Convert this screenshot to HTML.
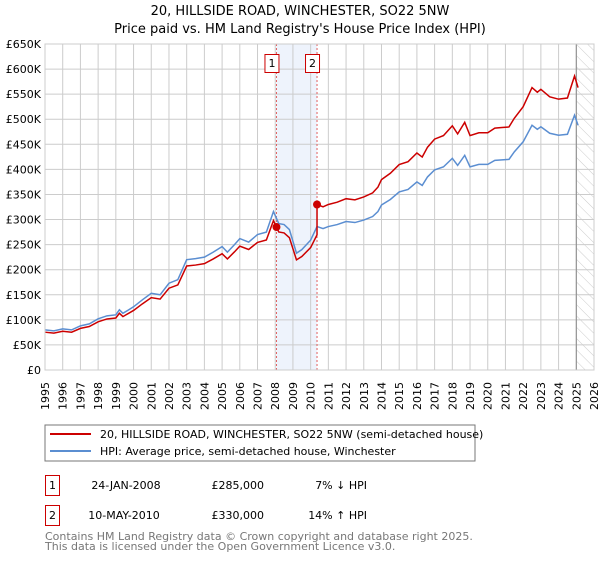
<!DOCTYPE html>
<html><head><meta charset="utf-8"><style>
body{margin:0;background:#fff;font-family:"DejaVu Sans","Liberation Sans",sans-serif;}
svg text{font-family:"DejaVu Sans","Liberation Sans",sans-serif;}
</style></head><body>
<svg id="chart" width="600" height="560" viewBox="0 0 600 560" xmlns="http://www.w3.org/2000/svg">
<defs><pattern id="hatch" width="8" height="8" patternUnits="userSpaceOnUse" patternTransform="rotate(-45)"><line x1="0" y1="0" x2="0" y2="8" stroke="#ccc" stroke-width="1"/></pattern></defs>
<text x="300" y="15" text-anchor="middle" font-size="13" fill="#000">20, HILLSIDE ROAD, WINCHESTER, SO22 5NW</text>
<text x="300" y="33" text-anchor="middle" font-size="13" fill="#000">Price paid vs. HM Land Registry's House Price Index (HPI)</text>
<g id="grid"></g><g id="marks"></g><g id="axes"></g>
<rect x="45" y="425" width="430" height="36" fill="#fff" stroke="#777"/>
<line x1="50" y1="434" x2="91" y2="434" stroke="#cc0000" stroke-width="2"/>
<text x="100" y="438" font-size="11">20, HILLSIDE ROAD, WINCHESTER, SO22 5NW (semi-detached house)</text>
<line x1="50" y1="451" x2="91" y2="451" stroke="#5b8ed1" stroke-width="2"/>
<text x="100" y="455" font-size="11">HPI: Average price, semi-detached house, Winchester</text>
<g>
<rect x="45.5" y="475.5" width="14" height="20" fill="#fff" stroke="#cc0000"/>
<text x="52.5" y="489" font-size="11" text-anchor="middle">1</text>
<text x="126" y="489" font-size="11" text-anchor="middle">24-JAN-2008</text>
<text x="264" y="489" font-size="11" text-anchor="end">£285,000</text>
<text x="367" y="489" font-size="11" text-anchor="end">7% ↓ HPI</text></g>
<g>
<rect x="45.5" y="505.5" width="14" height="20" fill="#fff" stroke="#cc0000"/>
<text x="52.5" y="519" font-size="11" text-anchor="middle">2</text>
<text x="124" y="519" font-size="11" text-anchor="middle">10-MAY-2010</text>
<text x="264" y="519" font-size="11" text-anchor="end">£330,000</text>
<text x="367" y="519" font-size="11" text-anchor="end">14% ↑ HPI</text></g>
<text x="45" y="540" font-size="11" fill="#777">Contains HM Land Registry data © Crown copyright and database right 2025.</text>
<text x="45" y="550" font-size="11" fill="#777">This data is licensed under the Open Government Licence v3.0.</text>
</svg>
<script>
const hpiYears=[1995,1995.5,1996,1996.5,1997,1997.5,1998,1998.5,1999,1999.2,1999.4,2000,2000.5,2001,2001.5,2002,2002.5,2003,2003.5,2004,2004.5,2005,2005.3,2005.7,2006,2006.5,2007,2007.5,2007.9,2008.2,2008.5,2008.8,2009.2,2009.5,2010,2010.36,2010.7,2011,2011.5,2012,2012.5,2013,2013.5,2013.8,2014,2014.5,2015,2015.5,2016,2016.3,2016.6,2017,2017.5,2018,2018.3,2018.7,2019,2019.5,2020,2020.4,2020.8,2021.2,2021.5,2022,2022.5,2022.8,2023,2023.5,2024,2024.5,2024.9,2025.1];
const hpiValues=[80,78,82,80,88,92,102,108,110,120,113,126,140,153,150,173,180,220,222,225,235,246,235,250,262,255,270,275,316,292,290,280,233,240,259,286,282,286,290,296,294,299,306,316,329,340,355,360,375,368,385,399,405,422,408,428,405,410,410,418,419,420,435,455,488,480,485,472,468,470,508,488];
const saleYears=[2008.07,2010.36];
const salePrices=[285,330];
const yTicks=[0,50,100,150,200,250,300,350,400,450,500,550,600,650];
const xTicks=[1995,1996,1997,1998,1999,2000,2001,2002,2003,2004,2005,2006,2007,2008,2009,2010,2011,2012,2013,2014,2015,2016,2017,2018,2019,2020,2021,2022,2023,2024,2025,2026];
const X0=45,X1=594,Y0=370,Y1=44;
const xs=v=>X0+(v-1995)/31*(X1-X0);
const ys=v=>Y0-v/650*(Y0-Y1);
const NS="http://www.w3.org/2000/svg";
function mk(tag,attrs,parent,txt){const e=document.createElementNS(NS,tag);for(const k in attrs)e.setAttribute(k,attrs[k]);if(txt!==undefined)e.textContent=txt;parent.appendChild(e);return e;}
const grid=document.getElementById('grid'),marks=document.getElementById('marks'),axes=document.getElementById('axes');
let sh=mk('rect',{x:xs(saleYears[0]),y:Y1,width:xs(saleYears[1])-xs(saleYears[0]),height:Y0-Y1,fill:'#eef3fc'},grid);


let ht=mk('rect',{x:xs(2025),y:Y1,width:X1-xs(2025),height:Y0-Y1,fill:'url(#hatch)'},grid);


yTicks.forEach(t=>{
 const l=mk('line',{x1:X0,x2:X1,y1:ys(t),y2:ys(t),stroke:'#ccc'},grid);
 
 
 const tx=mk('text',{x:41,y:ys(t)+4,'text-anchor':'end','font-size':11},axes,t===0?'£0':'£'+t+'K');
 
 
});
xTicks.forEach(t=>{
 const l=mk('line',{x1:xs(t),x2:xs(t),y1:Y1,y2:Y0,stroke:'#ccc'},grid);
 
 
 const tx=mk('text',{x:xs(t),y:382,'text-anchor':'end','font-size':11,transform:`rotate(-90 ${xs(t)} 382)`,dy:'4'},axes,String(t));
 
 
});
let fl=mk('line',{x1:xs(2025),x2:xs(2025),y1:Y1,y2:Y0,stroke:'#888'},grid);


function hpiAt(t){for(let i=0;i<hpiYears.length-1;i++){if(t<=hpiYears[i+1]){const f=(t-hpiYears[i])/(hpiYears[i+1]-hpiYears[i]);return hpiValues[i]+f*(hpiValues[i+1]-hpiValues[i]);}}return hpiValues[hpiValues.length-1];}
let hp=mk('polyline',{points:hpiYears.map((y,i)=>xs(y)+','+ys(hpiValues[i])).join(' '),fill:'none',stroke:'#5b8ed1','stroke-width':1.5},marks);


const r1=salePrices[0]/hpiAt(saleYears[0]),r2=salePrices[1]/hpiAt(saleYears[1]);
const pts=[];
hpiYears.forEach((y,i)=>{if(y<saleYears[1])pts.push([y,hpiValues[i]*r1]);});
pts.push([saleYears[1],hpiAt(saleYears[1])*r1]);
pts.push([saleYears[1],salePrices[1]]);
hpiYears.forEach((y,i)=>{if(y>saleYears[1])pts.push([y,hpiValues[i]*r2]);});
let pp=mk('polyline',{points:pts.map(p=>xs(p[0])+','+ys(p[1])).join(' '),fill:'none',stroke:'#cc0000','stroke-width':1.5},marks);


saleYears.forEach((y,i)=>{
 const d=mk('line',{x1:xs(y),x2:xs(y),y1:Y1,y2:Y0,stroke:'#e06060','stroke-dasharray':'2,2'},grid);
 
 
 const c=mk('circle',{cx:xs(y),cy:ys(salePrices[i]),r:4,fill:'#cc0000'},marks);
 
 
 const b=mk('rect',{x:xs(y)-11.5,y:54.5,width:14,height:18,fill:'#fff',stroke:'#cc0000'},marks);
 
 
 const t=mk('text',{x:xs(y)-4.5,y:67,'text-anchor':'middle','font-size':11},marks,String(i+1));
 
 
});
let fr=mk('rect',{x:X0,y:Y1,width:X1-X0,height:Y0-Y1,fill:'none',stroke:'#ccc'},axes);


</script>
</body></html>
